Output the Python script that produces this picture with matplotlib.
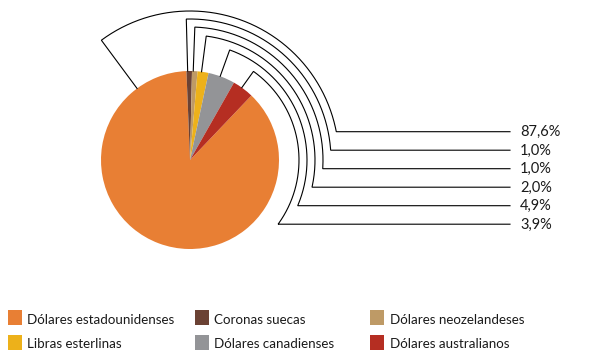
import numpy as np
import matplotlib
matplotlib.use("Agg")
import matplotlib.pyplot as plt
from matplotlib.patches import Rectangle

plt.rcParams['font.family'] = ['Lato', 'DejaVu Sans']

categories = ["Dólares estadounidenses", "Coronas suecas", "Dólares neozelandeses",
              "Libras esterlinas", "Dólares canadienses", "Dólares australianos"]
values = [87.6, 1.0, 1.0, 2.0, 4.9, 3.9]
labels = ["87,6%", "1,0%", "1,0%", "2,0%", "4,9%", "3,9%"]
colors = ["#E87F34", "#6B4234", "#BE9A66", "#EDB11A", "#939497", "#B52E22"]

W, H = 613, 352
fig = plt.figure(figsize=(W / 100, H / 100), dpi=100)
ax = fig.add_axes([0, 0, 1, 1])
cx, cy, R = 190, H - 160, 89
start = 46.4
ax.pie(values, colors=colors, startangle=start, counterclock=False,
       center=(cx, cy), radius=R, wedgeprops=dict(linewidth=0), frame=True)

# leader lines
tot = sum(values)
angles = []
a = start
for v in values:
    span = 360 * v / tot
    angles.append((a - span / 2 + 1.0) % 360)
    a -= span
angles[0] = 126.5  # anchor point on the large slice
radii = [149, 141, 133, 125, 117, 109]
label_y = [H - (131.7 + 18.5 * i) for i in range(len(values))]
x_end = 510
for th, r, ly in zip(angles, radii, label_y):
    t = np.deg2rad(th)
    phi = np.arcsin((ly - cy) / r)
    xs = [cx + R * np.cos(t)]
    ys = [cy + R * np.sin(t)]
    arc = np.linspace(t, phi, 150)
    xs += list(cx + r * np.cos(arc))
    ys += list(cy + r * np.sin(arc))
    xs.append(x_end)
    ys.append(ly)
    ax.plot(xs, ys, color="black", lw=0.8, solid_joinstyle="miter")

for lab, ly in zip(labels, label_y):
    ax.text(x_end + 10, ly - 0.5, lab, fontsize=10.5, va="center", ha="left", color="#1a1a1a")

# legend
col_x = [7.5, 195, 370]
row_y = [H - 317.5, H - 342.5]
for i, (cat, col) in enumerate(zip(categories, colors)):
    r_, c_ = divmod(i, 3)
    x0 = col_x[c_]
    y0 = row_y[r_]
    ax.add_patch(Rectangle((x0, y0 - 7.5), 14, 15, color=col, lw=0))
    ax.text(x0 + 19.5, y0 - 2, cat, fontsize=9.6, va="center", ha="left", color="#1a1a1a")

ax.set_xlim(0, W)
ax.set_ylim(0, H)
ax.set_aspect("equal")
ax.axis("off")
fig.savefig("out.png", dpi=100)
